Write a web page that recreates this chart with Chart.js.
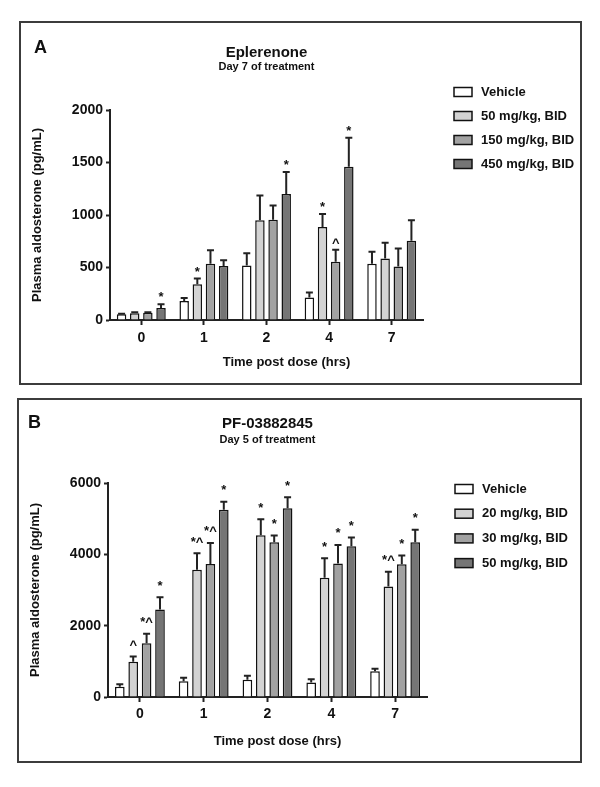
<!DOCTYPE html>
<html>
<head>
<meta charset="utf-8">
<script src="https://cdn.jsdelivr.net/npm/chart.js@4"></script>
<style>
  body { margin: 0; background: #fff; }
  #wrap { position: relative; width: 600px; height: 787px; }
  .frame { position: absolute; box-sizing: border-box; border: 2px solid #3c3c3c; }
  canvas { position: absolute; left: 0; }
</style>
</head>
<body>
<div id="wrap">
  <div class="frame" style="left:19px;top:21px;width:563px;height:364px"></div>
  <div class="frame" style="left:17px;top:398px;width:565px;height:365px"></div>
  <canvas id="chartA" width="600" height="392" style="top:0"></canvas>
  <canvas id="chartB" width="600" height="395" style="top:392px"></canvas>
</div>
<script>
// time points (hrs)
const timePoints = ['0', '1', '2', '4', '7'];

// Panel A - Eplerenone, day 7
const eplLabels = ['Vehicle', '50 mg/kg, BID', '150 mg/kg, BID', '450 mg/kg, BID'];
const eplVehicle = [55, 180, 520, 215, 535];
const eplVehicleErr = [5, 30, 115, 48, 115];
const eplLow = [65, 340, 950, 885, 585];
const eplLowErr = [8, 55, 235, 125, 150];
const eplMid = [70, 535, 955, 555, 510];
const eplMidErr = [5, 130, 135, 115, 170];
const eplHigh = [115, 515, 1200, 1460, 755];
const eplHighErr = [35, 55, 210, 275, 195];
const eplVehicleSig = ['', '', '', '', ''];
const eplLowSig = ['', '*', '', '*', ''];
const eplMidSig = ['', '', '', '^', ''];
const eplHighSig = ['*', '', '*', '*', ''];
const eplTicks = [0, 500, 1000, 1500, 2000];

// Panel B - PF-03882845, day 5
const pfLabels = ['Vehicle', '20 mg/kg, BID', '30 mg/kg, BID', '50 mg/kg, BID'];
const pfVehicle = [290, 440, 485, 410, 720];
const pfVehicleErr = [70, 100, 110, 85, 75];
const pfLow = [985, 3570, 4535, 3345, 3095];
const pfLowErr = [150, 460, 450, 545, 420];
const pfMid = [1510, 3730, 4340, 3740, 3720];
const pfMidErr = [260, 590, 190, 525, 245];
const pfHigh = [2455, 5250, 5290, 4230, 4340];
const pfHighErr = [345, 225, 310, 245, 350];
const pfVehicleSig = ['', '', '', '', ''];
const pfLowSig = ['^', '*^', '*', '*', '*^'];
const pfMidSig = ['*^', '*^', '*', '*', '*'];
const pfHighSig = ['*', '*', '*', '*', '*'];
const pfTicks = [0, 2000, 4000, 6000];

const FONT = '"Liberation Sans", Arial, sans-serif';
const INK = '#111';
const fills = ['#ffffff', '#d3d3d3', '#a2a2a2', '#757575'];

// error bars, significance marks, legend, panel letter, x title
const extras = {
    id: 'extras',
    afterDatasetsDraw(chart, args, o) {
        const ctx = chart.ctx;
        const yScale = chart.scales.y;
        ctx.save();
        chart.data.datasets.forEach((ds, i) => {
            const meta = chart.getDatasetMeta(i);
            meta.data.forEach((bar, j) => {
                const top = yScale.getPixelForValue(ds.data[j] + ds.errors[j]);
                ctx.strokeStyle = '#222';
                ctx.lineWidth = 2;
                ctx.beginPath();
                ctx.moveTo(bar.x, bar.y);
                ctx.lineTo(bar.x, top);
                ctx.moveTo(bar.x - 3.5, top);
                ctx.lineTo(bar.x + 3.5, top);
                ctx.stroke();
                if (ds.sig[j]) {
                    ctx.fillStyle = INK;
                    ctx.font = 'bold 13px ' + FONT;
                    ctx.textAlign = 'center';
                    ctx.textBaseline = 'alphabetic';
                    ctx.fillText(ds.sig[j], bar.x, top - o.sigGap);
                }
            });
        });
        ctx.restore();
    },
    afterDraw(chart, args, o) {
        const ctx = chart.ctx;
        const area = chart.chartArea;
        ctx.save();
        // panel letter
        ctx.fillStyle = INK;
        ctx.font = 'bold 18px ' + FONT;
        ctx.textAlign = 'left';
        ctx.textBaseline = 'alphabetic';
        ctx.fillText(o.letter, o.letterX, o.letterY);
        // x axis title
        ctx.font = 'bold 13px ' + FONT;
        ctx.textAlign = 'center';
        ctx.textBaseline = 'middle';
        ctx.fillText('Time post dose (hrs)', (area.left + area.right) / 2 + o.xTitleShift, o.xTitleY);
        // legend
        ctx.textAlign = 'left';
        chart.data.datasets.forEach((ds, i) => {
            const cy = o.legendY + i * o.legendGap;
            ctx.fillStyle = ds.backgroundColor;
            ctx.fillRect(o.legendX, cy - 4.5, 18, 9);
            ctx.strokeStyle = INK;
            ctx.lineWidth = 1.5;
            ctx.strokeRect(o.legendX, cy - 4.5, 18, 9);
            ctx.fillStyle = INK;
            ctx.fillText(ds.label, o.legendX + 27, cy);
        });
        ctx.restore();
    }
};

function makeDatasets(labels, values, errors, sigs) {
    return labels.map((label, i) => ({
        label: label,
        data: values[i],
        errors: errors[i],
        sig: sigs[i],
        backgroundColor: fills[i],
        borderColor: INK,
        borderWidth: 1.5,
        barPercentage: 0.72,
        categoryPercentage: 0.84
    }));
}

function makePanel(id, p) {
    new Chart(document.getElementById(id), {
        type: 'bar',
        data: { labels: timePoints, datasets: p.datasets },
        options: {
            responsive: false,
            animation: false,
            layout: { padding: p.padding },
            scales: {
                x: {
                    offset: true,
                    afterFit: s => { s.height = 40; },
                    grid: { offset: false, drawOnChartArea: false, tickLength: 5, tickWidth: 2, color: '#222' },
                    border: { width: 2, color: '#222' },
                    ticks: { color: INK, font: { family: FONT, size: 14, weight: 'bold' }, padding: p.xTickPad }
                },
                y: {
                    min: 0,
                    max: p.ticks[p.ticks.length - 1],
                    afterFit: s => { s.width = p.yWidth; },
                    afterBuildTicks: s => { s.ticks = p.ticks.map(v => ({ value: v })); },
                    grid: { drawOnChartArea: false, tickLength: 4, tickWidth: 2, color: '#222' },
                    border: { width: 2, color: '#222' },
                    ticks: {
                        color: INK, font: { family: FONT, size: 14, weight: 'bold' }, padding: 3,
                        callback: v => String(v)
                    },
                    title: {
                        display: true,
                        text: 'Plasma aldosterone (pg/mL)',
                        color: INK,
                        font: { family: FONT, size: 13, weight: 'bold', lineHeight: 1.2 },
                        padding: { top: p.yTitlePad, bottom: 0 }
                    }
                }
            },
            plugins: {
                legend: { display: false },
                tooltip: { enabled: false },
                title: {
                    display: true, fullSize: false, text: p.title, color: INK,
                    font: { family: FONT, size: 15, weight: 'bold', lineHeight: 1 },
                    padding: { top: p.titlePad, bottom: 0 }
                },
                subtitle: {
                    display: true, fullSize: false, text: p.subtitle, color: INK,
                    font: { family: FONT, size: 11, weight: 'bold', lineHeight: 1 },
                    padding: { top: p.subPadTop, bottom: p.subPadBottom }
                },
                extras: p.extras
            }
        },
        plugins: [extras]
    });
}

makePanel('chartA', {
    title: 'Eplerenone',
    subtitle: 'Day 7 of treatment',
    datasets: makeDatasets(eplLabels,
        [eplVehicle, eplLow, eplMid, eplHigh],
        [eplVehicleErr, eplLowErr, eplMidErr, eplHighErr],
        [eplVehicleSig, eplLowSig, eplMidSig, eplHighSig]),
    ticks: eplTicks,
    padding: { left: 20, right: 177, top: 0, bottom: 32 },
    yWidth: 90, yTitlePad: 10, xTickPad: 5,
    titlePad: 45.5, subPadTop: 1, subPadBottom: 37.5,
    extras: { letter: 'A', letterX: 34, letterY: 53, xTitleShift: 20, xTitleY: 362,
              legendX: 454, legendY: 92, legendGap: 24, sigGap: 3 }
});

makePanel('chartB', {
    title: 'PF-03882845',
    subtitle: 'Day 5 of treatment',
    datasets: makeDatasets(pfLabels,
        [pfVehicle, pfLow, pfMid, pfHigh],
        [pfVehicleErr, pfLowErr, pfMidErr, pfHighErr],
        [pfVehicleSig, pfLowSig, pfMidSig, pfHighSig]),
    ticks: pfTicks,
    padding: { left: 20, right: 173, top: 0, bottom: 50 },
    yWidth: 88, yTitlePad: 8, xTickPad: 4,
    titlePad: 24.8, subPadTop: 2.7, subPadBottom: 37.5,
    extras: { letter: 'B', letterX: 28, letterY: 36, xTitleShift: 10, xTitleY: 349,
              legendX: 455, legendY: 97, legendGap: 24.7, sigGap: 7.5 }
});
</script>
</body>
</html>
